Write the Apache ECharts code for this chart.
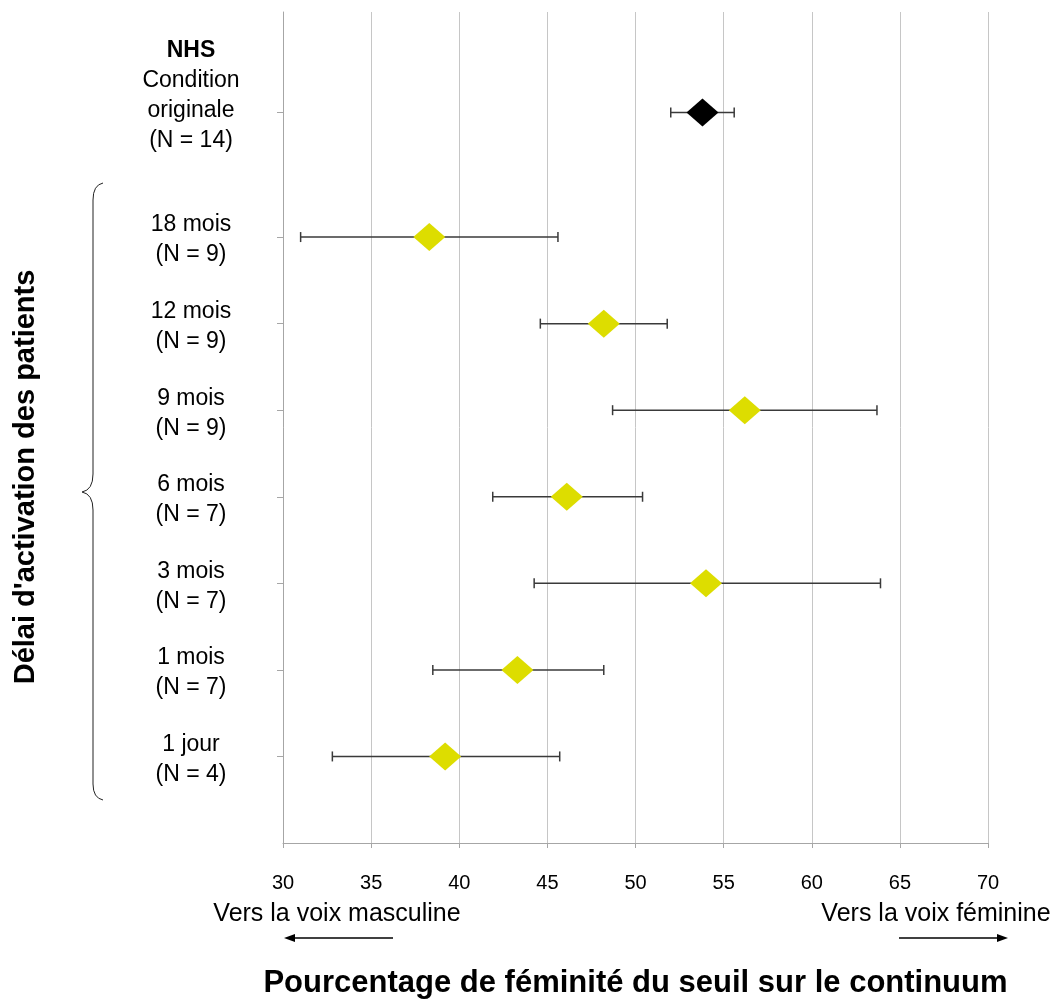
<!DOCTYPE html>
<html>
<head>
<meta charset="utf-8">
<script src="https://cdn.jsdelivr.net/npm/echarts@6/dist/echarts.min.js"></script>
<style>html,body{margin:0;padding:0;background:#fff}#c{width:1060px;height:1001px}</style>
</head>
<body>
<div id="c"></div>
<script>
// ---- data ----
const groupLabels = ['18 mois', '12 mois', '9 mois', '6 mois', '3 mois', '1 mois', '1 jour'];
const groupN      = [9, 9, 9, 7, 7, 7, 4];
const groupRow    = [7, 6, 5, 4, 3, 2, 1];
const groupMean   = [38.3, 48.2, 56.2, 46.1, 54.0, 43.3, 39.2];
const groupLow    = [31.0, 44.6, 48.7, 41.9, 44.25, 38.5, 32.8];
const groupHigh   = [45.6, 51.8, 63.7, 50.4, 63.9, 48.2, 45.7];

const nhsTitle = ['NHS', 'Condition', 'originale'];
const nhsN     = [14];
const nhsRow   = [8.44];
const nhsMean  = [53.8];
const nhsLow   = [52.0];
const nhsHigh  = [55.6];

const xTicks = [30, 35, 40, 45, 50, 55, 60, 65, 70];
const xTitle = 'Pourcentage de féminité du seuil sur le continuum';
const yTitle = "Délai d'activation des patients";
const leftNote = 'Vers la voix masculine';
const rightNote = 'Vers la voix féminine';

// ---- build ----
const FONT = '"Liberation Sans", Arial, Helvetica, sans-serif';
const rows = groupRow.concat(nhsRow);
function labelFor(v) {
  for (let i = 0; i < groupRow.length; i++) {
    if (Math.abs(groupRow[i] - v) < 1e-6) return '{n|' + groupLabels[i] + '}\n{n|(N = ' + groupN[i] + ')}';
  }
  if (Math.abs(nhsRow[0] - v) < 1e-6) {
    return '{b|' + nhsTitle[0] + '}\n{n|' + nhsTitle[1] + '}\n{n|' + nhsTitle[2] + '}\n{n|(N = ' + nhsN[0] + ')}\n{sp| }';
  }
  return '';
}

const groupErr = groupRow.map((r, i) => [groupLow[i], groupHigh[i], r]);
const nhsErr = nhsRow.map((r, i) => [nhsLow[i], nhsHigh[i], r]);
const groupPts = groupRow.map((r, i) => [groupMean[i], r]);
const nhsPts = nhsRow.map((r, i) => [nhsMean[i], r]);

function errRender(params, api) {
  const lo = api.coord([api.value(0), api.value(2)]);
  const hi = api.coord([api.value(1), api.value(2)]);
  const h = 5;
  const st = { stroke: '#3a3a3a', lineWidth: 1.5 };
  return {
    type: 'group',
    children: [
      { type: 'line', shape: { x1: lo[0], y1: lo[1], x2: hi[0], y2: hi[1] }, style: st },
      { type: 'line', shape: { x1: lo[0], y1: lo[1] - h, x2: lo[0], y2: lo[1] + h }, style: st },
      { type: 'line', shape: { x1: hi[0], y1: hi[1] - h, x2: hi[0], y2: hi[1] + h }, style: st }
    ]
  };
}

const braceStyle = { fill: null, stroke: '#222', lineWidth: 1 };
const chart = echarts.init(document.getElementById('c'), null, { renderer: 'canvas' });
chart.setOption({
  backgroundColor: '#ffffff',
  animation: false,
  grid: { left: 283, right: 72, top: 12, bottom: 158, containLabel: false, outerBoundsMode: 'none' },
  xAxis: {
    type: 'value', min: xTicks[0], max: xTicks[xTicks.length - 1], interval: 5,
    axisLine: { show: true, lineStyle: { color: '#a6a6a6', width: 1 } },
    axisTick: { show: true, length: 5, lineStyle: { color: '#a6a6a6' } },
    axisLabel: { color: '#000', fontSize: 20, fontFamily: FONT, margin: 30 },
    splitLine: { show: true, lineStyle: { color: '#c6c6c6', width: 1 } },
    name: xTitle, nameLocation: 'middle', nameGap: 125,
    nameTextStyle: { color: '#000', fontSize: 31, fontWeight: 'bold', fontFamily: FONT }
  },
  yAxis: {
    type: 'value', min: 0, max: 9.6,
    axisLine: { show: true, lineStyle: { color: '#a6a6a6', width: 1 } },
    axisTick: { show: true, length: 6, customValues: rows, lineStyle: { color: '#a6a6a6' } },
    axisLabel: {
      customValues: rows, formatter: labelFor, margin: 92, align: 'center',
      padding: [6, 0, 0, 0],
      color: '#000', fontSize: 23, fontFamily: FONT,
      rich: {
        n: { fontSize: 23, fontFamily: FONT, color: '#000', lineHeight: 30 },
        b: { fontSize: 23, fontFamily: FONT, color: '#000', fontWeight: 'bold', lineHeight: 30 },
        sp: { fontSize: 10, lineHeight: 40 }
      }
    },
    splitLine: { show: false }
  },
  series: [
    { type: 'custom', renderItem: errRender, data: groupErr, encode: { x: [0, 1], y: 2 }, z: 2, silent: true },
    { type: 'custom', renderItem: errRender, data: nhsErr, encode: { x: [0, 1], y: 2 }, z: 2, silent: true },
    { type: 'scatter', data: groupPts, symbol: 'diamond', symbolSize: [32, 28],
      itemStyle: { color: '#dddd00', opacity: 1 }, z: 5 },
    { type: 'scatter', data: nhsPts, symbol: 'diamond', symbolSize: [32, 28],
      itemStyle: { color: '#000000', opacity: 1 }, z: 5 }
  ],
  graphic: [
    { type: 'text', x: 26, y: 477, rotation: Math.PI / 2,
      style: { text: yTitle, fill: '#000', font: 'bold 29px ' + FONT, textAlign: 'center', textVerticalAlign: 'middle' } },
    { type: 'text', x: 337, y: 914,
      style: { text: leftNote, fill: '#000', font: '25px ' + FONT, textAlign: 'center', textVerticalAlign: 'middle' } },
    { type: 'text', x: 936, y: 914,
      style: { text: rightNote, fill: '#000', font: '25px ' + FONT, textAlign: 'center', textVerticalAlign: 'middle' } },
    { type: 'line', shape: { x1: 393, y1: 938, x2: 292, y2: 938 }, style: { stroke: '#000', lineWidth: 1.5 } },
    { type: 'polygon', shape: { points: [[284, 938], [295, 934], [295, 942]] }, style: { fill: '#000' } },
    { type: 'line', shape: { x1: 899, y1: 938, x2: 1000, y2: 938 }, style: { stroke: '#000', lineWidth: 1.5 } },
    { type: 'polygon', shape: { points: [[1008, 938], [997, 934], [997, 942]] }, style: { fill: '#000' } },
    { type: 'bezierCurve', shape: { x1: 103, y1: 183, cpx1: 93, cpy1: 185, x2: 93, y2: 200 }, style: braceStyle },
    { type: 'line', shape: { x1: 93, y1: 200, x2: 93, y2: 474 }, style: braceStyle },
    { type: 'bezierCurve', shape: { x1: 93, y1: 474, cpx1: 93, cpy1: 490, x2: 82, y2: 492 }, style: braceStyle },
    { type: 'bezierCurve', shape: { x1: 82, y1: 492, cpx1: 93, cpy1: 494, x2: 93, y2: 510 }, style: braceStyle },
    { type: 'line', shape: { x1: 93, y1: 510, x2: 93, y2: 784 }, style: braceStyle },
    { type: 'bezierCurve', shape: { x1: 93, y1: 784, cpx1: 93, cpy1: 798, x2: 103, y2: 800 }, style: braceStyle }
  ]
});
</script>
</body>
</html>
